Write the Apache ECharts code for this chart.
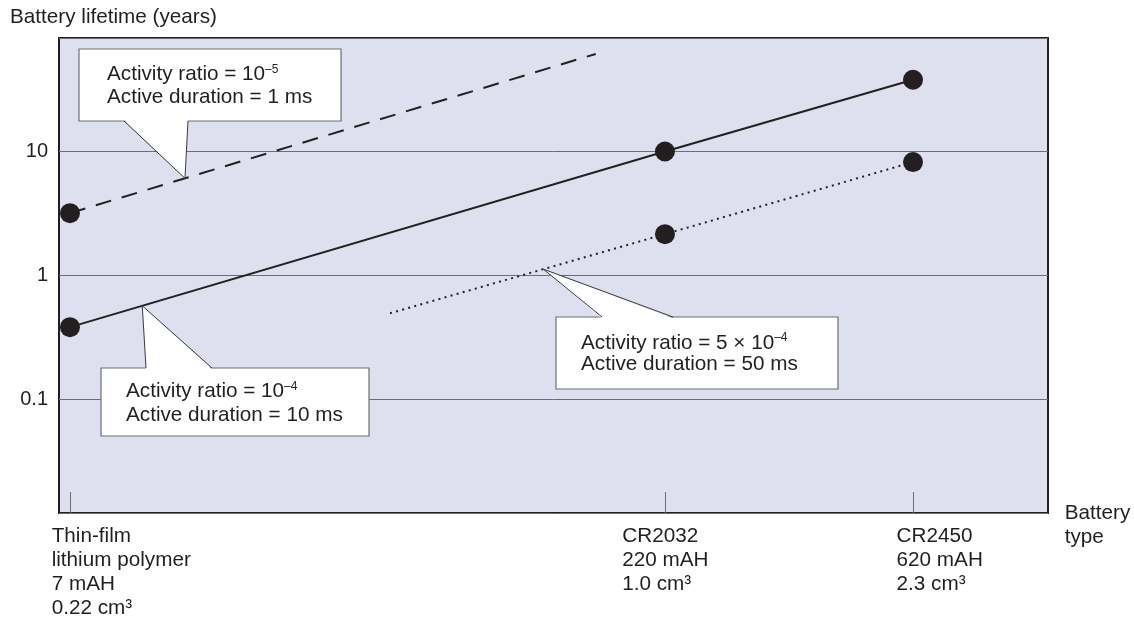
<!DOCTYPE html>
<html><head><meta charset="utf-8">
<script src="https://cdn.jsdelivr.net/npm/echarts@6/dist/echarts.min.js"></script>
<style>html,body{margin:0;padding:0;background:#fff}#c{width:1134px;height:619px}</style>
</head><body><div id="c"></div>
<script>
// ---- data ----
const batteryLabels = [
  ['Thin-film', 'lithium polymer', '7 mAH', '0.22 cm³'],
  ['CR2032', '220 mAH', '1.0 cm³'],
  ['CR2450', '620 mAH', '2.3 cm³']
];
const batteryX = [1.11, 61.27, 86.35];          // relative position along the battery-type axis
const yTickLabels = { '-1': '0.1', '0': '1', '1': '10' };
const yTitle = 'Battery lifetime (years)';
const xTitle = ['Battery', 'type'];

const dashedX = [1.11, 54.27];
const dashedY = [3.18, 61.3];
const dashedMarker = [true, false];

const solidX = [1.11, 61.27, 86.35];
const solidY = [0.382, 10, 37.9];
const solidMarker = [true, true, true];

const dottedX = [33.47, 61.27, 86.35];
const dottedY = [0.495, 2.15, 8.21];
const dottedMarker = [false, true, true];

const calloutText = [
  ['{n|Activity ratio = 10}{s|–5}', '{n|Active duration = 1 ms}'],
  ['{n|Activity ratio = 10}{s|–4}', '{n|Active duration = 10 ms}'],
  ['{n|Activity ratio = 5 × 10}{s|–4}', '{n|Active duration = 50 ms}']
];
const calloutAnchorX = [12.74, 8.42, 48.97];   // where each pointer touches its line

// ---- layout / style ----
const FONT = '"Liberation Sans", Arial, Helvetica, sans-serif';
const INK = '#231f20';
const FS = 20.7;
const callLayout = [
  { series: 0, box: [79, 49, 262, 72], base: [124, 188], edge: 'bottom', tx: 107, base1: 80.7, lh: 22.6 },
  { series: 1, box: [101, 368, 268, 68], base: [146, 212], edge: 'top', tx: 126, base1: 397.7, lh: 24 },
  { series: 2, box: [556, 317, 282, 72], base: [602, 673], edge: 'top', tx: 581, base1: 349.3, lh: 21 }
];
const labelOffsets = [-18.3, -42.7, -16.4];

function mk(xs, ys, marks) {
  return xs.map((x, i) => ({ value: [x, ys[i]], symbol: marks[i] ? 'circle' : 'none' }));
}
const lines = [[dashedX, dashedY], [solidX, solidY], [dottedX, dottedY]];

const chart = echarts.init(document.getElementById('c'), null, { renderer: 'canvas' });
const yMin = Math.pow(10, -1.918), yMax = Math.pow(10, 1.916);

chart.setOption({
  animation: false,
  backgroundColor: '#fff',
  grid: { left: 59, right: 86, top: 38, bottom: 106, show: true, backgroundColor: '#dfe0ef', borderColor: INK, borderWidth: 2 },
  xAxis: {
    type: 'value', min: 0, max: 100,
    axisLine: { show: false },
    splitLine: { show: false },
    axisLabel: { show: false },
    axisTick: { show: true, inside: true, length: 21, lineStyle: { color: '#6d6e71', width: 1 }, customValues: batteryX }
  },
  yAxis: {
    type: 'log', logBase: 10, min: yMin, max: yMax,
    axisLine: { show: false }, axisTick: { show: false },
    splitLine: { show: true, lineStyle: { color: '#6d6e71', width: 1 } },
    axisLabel: {
      color: INK, fontSize: 20, fontFamily: FONT, margin: 11,
      showMinLabel: false, showMaxLabel: false,
      formatter: v => {
        const e = Math.log10(v), r = Math.round(e);
        return Math.abs(e - r) < 1e-6 && yTickLabels[String(r)] ? yTickLabels[String(r)] : '';
      }
    }
  },
  series: [
    { type: 'line', data: mk(dashedX, dashedY, dashedMarker), symbolSize: 20, itemStyle: { color: INK },
      lineStyle: { color: INK, width: 2, type: [16, 11] }, z: 3 },
    { type: 'line', data: mk(solidX, solidY, solidMarker), symbolSize: 20, itemStyle: { color: INK },
      lineStyle: { color: INK, width: 2, type: 'solid' }, z: 3 },
    { type: 'line', data: mk(dottedX, dottedY, dottedMarker), symbolSize: 20, itemStyle: { color: INK },
      lineStyle: { color: INK, width: 2, type: [2, 4.3] }, z: 3 }
  ]
});

function logInterp(xs, ys, x) {
  for (let i = 0; i < xs.length - 1; i++) {
    if (x >= xs[i] && x <= xs[i + 1]) {
      const t = (x - xs[i]) / (xs[i + 1] - xs[i]);
      return Math.pow(10, Math.log10(ys[i]) + t * (Math.log10(ys[i + 1]) - Math.log10(ys[i])));
    }
  }
  return ys[0];
}

const g = [];
const rich = {
  n: { fontSize: FS, fontFamily: FONT, fill: INK, lineHeight: 22 },
  s: { fontSize: 12, fontFamily: FONT, fill: INK, lineHeight: 14, verticalAlign: 'top' }
};
callLayout.forEach((c, k) => {
  const [xs, ys] = lines[c.series];
  const ax = calloutAnchorX[k];
  const tip = chart.convertToPixel({ xAxisIndex: 0, yAxisIndex: 0 }, [ax, logInterp(xs, ys, ax)]);
  const [bx, by, bw, bh] = c.box;
  const ey = c.edge === 'bottom' ? by + bh : by;
  const inner = c.edge === 'bottom' ? ey - 1.5 : ey + 1.5;
  g.push({ type: 'rect', shape: { x: bx, y: by, width: bw, height: bh }, style: { fill: '#fff', stroke: '#6d6e71', lineWidth: 1.2 }, z: 10 });
  g.push({ type: 'polygon', shape: { points: [[c.base[0], inner], tip, [c.base[1], inner]] }, style: { fill: '#fff' }, z: 11 });
  g.push({ type: 'polyline', shape: { points: [[c.base[0], ey], tip, [c.base[1], ey]] }, style: { stroke: '#3a3a3c', lineWidth: 1, fill: null }, z: 12 });
  calloutText[k].forEach((t, li) => {
    g.push({ type: 'text', x: c.tx, y: c.base1 + li * c.lh - 6.4, z: 13,
      style: { text: t, rich: rich, align: 'left', verticalAlign: 'middle' } });
  });
});

// category labels under the axis
batteryLabels.forEach((lab, i) => {
  const p = chart.convertToPixel({ xAxisIndex: 0, yAxisIndex: 0 }, [batteryX[i], 1]);
  g.push({ type: 'text', x: p[0] + labelOffsets[i], y: 524.6, z: 13,
    style: { text: lab.join('\n'), fontSize: FS, fontFamily: FONT, fill: INK, lineHeight: 24, align: 'left', verticalAlign: 'top' } });
});
g.push({ type: 'text', x: 1064.7, y: 501.6, z: 13,
  style: { text: xTitle.join('\n'), fontSize: FS, fontFamily: FONT, fill: INK, lineHeight: 24, align: 'left', verticalAlign: 'top' } });
g.push({ type: 'text', x: 10, y: 16.9, z: 13,
  style: { text: yTitle, fontSize: FS, fontFamily: FONT, fill: INK, align: 'left', verticalAlign: 'middle' } });

chart.setOption({ graphic: g });
</script></body></html>
